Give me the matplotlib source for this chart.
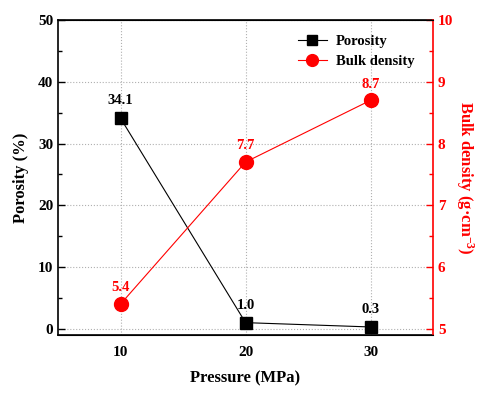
import matplotlib
matplotlib.use("Agg")
import matplotlib.pyplot as plt

plt.rcParams['font.family'] = ['Liberation Serif', 'DejaVu Serif']
plt.rcParams['font.weight'] = 'bold'
plt.rcParams['mathtext.fontset'] = 'custom'
plt.rcParams['mathtext.rm'] = 'Liberation Serif:bold'
plt.rcParams['mathtext.bf'] = 'Liberation Serif:bold'
plt.rcParams['mathtext.default'] = 'bf'

pressure = [10, 20, 30]
porosity = [34.1, 1.0, 0.3]
density = [5.4, 7.7, 8.7]
porosity_labels = ["34.1", "1.0", "0.3"]
density_labels = ["5.4", "7.7", "8.7"]

fig = plt.figure(figsize=(4.85, 3.93), dpi=100)
ax = fig.add_axes([0.1196, 0.1476, 0.7734, 0.8015])
ax2 = ax.twinx()

l1, = ax.plot(pressure, porosity, color='black', lw=0.8, marker='s', ms=9,
              label='Porosity', zorder=3)
l2, = ax2.plot(pressure, density, color='red', lw=0.8, marker='o', ms=10,
               label='Bulk density', zorder=3)

for x, y, t in zip(pressure, porosity, porosity_labels):
    ax.annotate(t, (x, y), xytext=(0, 8), textcoords='offset points',
                ha='center', va='bottom', fontsize=10.5, fontweight='bold')
for x, y, t in zip(pressure, density, density_labels):
    ax2.annotate(t, (x, y), xytext=(0, 7), textcoords='offset points',
                 ha='center', va='bottom', fontsize=10.5, fontweight='bold', color='red')

ax.set_xlim(5, 35)
ax.set_ylim(-1, 50)
ax2.set_ylim(4.9, 10)
ax.set_xticks([10, 20, 30])
ax.set_yticks([0, 10, 20, 30, 40, 50])
ax.set_yticks([5, 15, 25, 35, 45], minor=True)
ax2.set_yticks([5, 6, 7, 8, 9, 10])
ax2.set_yticks([5.5, 6.5, 7.5, 8.5, 9.5], minor=True)

ax.grid(True, which='major', ls=':', color='#b0b0b0', lw=0.8)
ax.set_axisbelow(True)

ax.tick_params(axis='both', which='both', direction='in', labelsize=11, width=1)
ax.tick_params(axis='y', which='major', length=5)
ax.tick_params(axis='y', which='minor', length=3)
ax.tick_params(axis='x', which='major', length=0, pad=8)
ax2.tick_params(axis='y', which='both', direction='in', colors='red', labelsize=11, width=1)
ax2.tick_params(axis='y', which='major', length=5)
ax2.tick_params(axis='y', which='minor', length=3)

for lab in ax.get_xticklabels() + ax.get_yticklabels() + ax2.get_yticklabels():
    lab.set_fontweight('bold')

for s in ['left', 'bottom', 'top']:
    ax.spines[s].set_linewidth(1.2)
ax2.spines['right'].set_color('red')
ax2.spines['right'].set_linewidth(1.2)
ax2.spines['left'].set_visible(False)
ax.spines['right'].set_visible(False)

ax.set_xlabel('Pressure (MPa)', fontsize=12, fontweight='bold', labelpad=8)
ax.set_ylabel('Porosity (%)', fontsize=12, fontweight='bold', labelpad=6)
ax2.set_ylabel('Bulk density (g\u00b7cm$^{-3}$)', fontsize=12,
               fontweight='bold', color='red', rotation=270, labelpad=16)

ax.legend([l1, l2], ['Porosity', 'Bulk density'], loc='upper right', frameon=False,
          fontsize=10.5, handlelength=2.0, handletextpad=0.6, numpoints=1,
          markerscale=0.85, bbox_to_anchor=(0.985, 0.995))

fig.savefig('out.png', dpi=100)
